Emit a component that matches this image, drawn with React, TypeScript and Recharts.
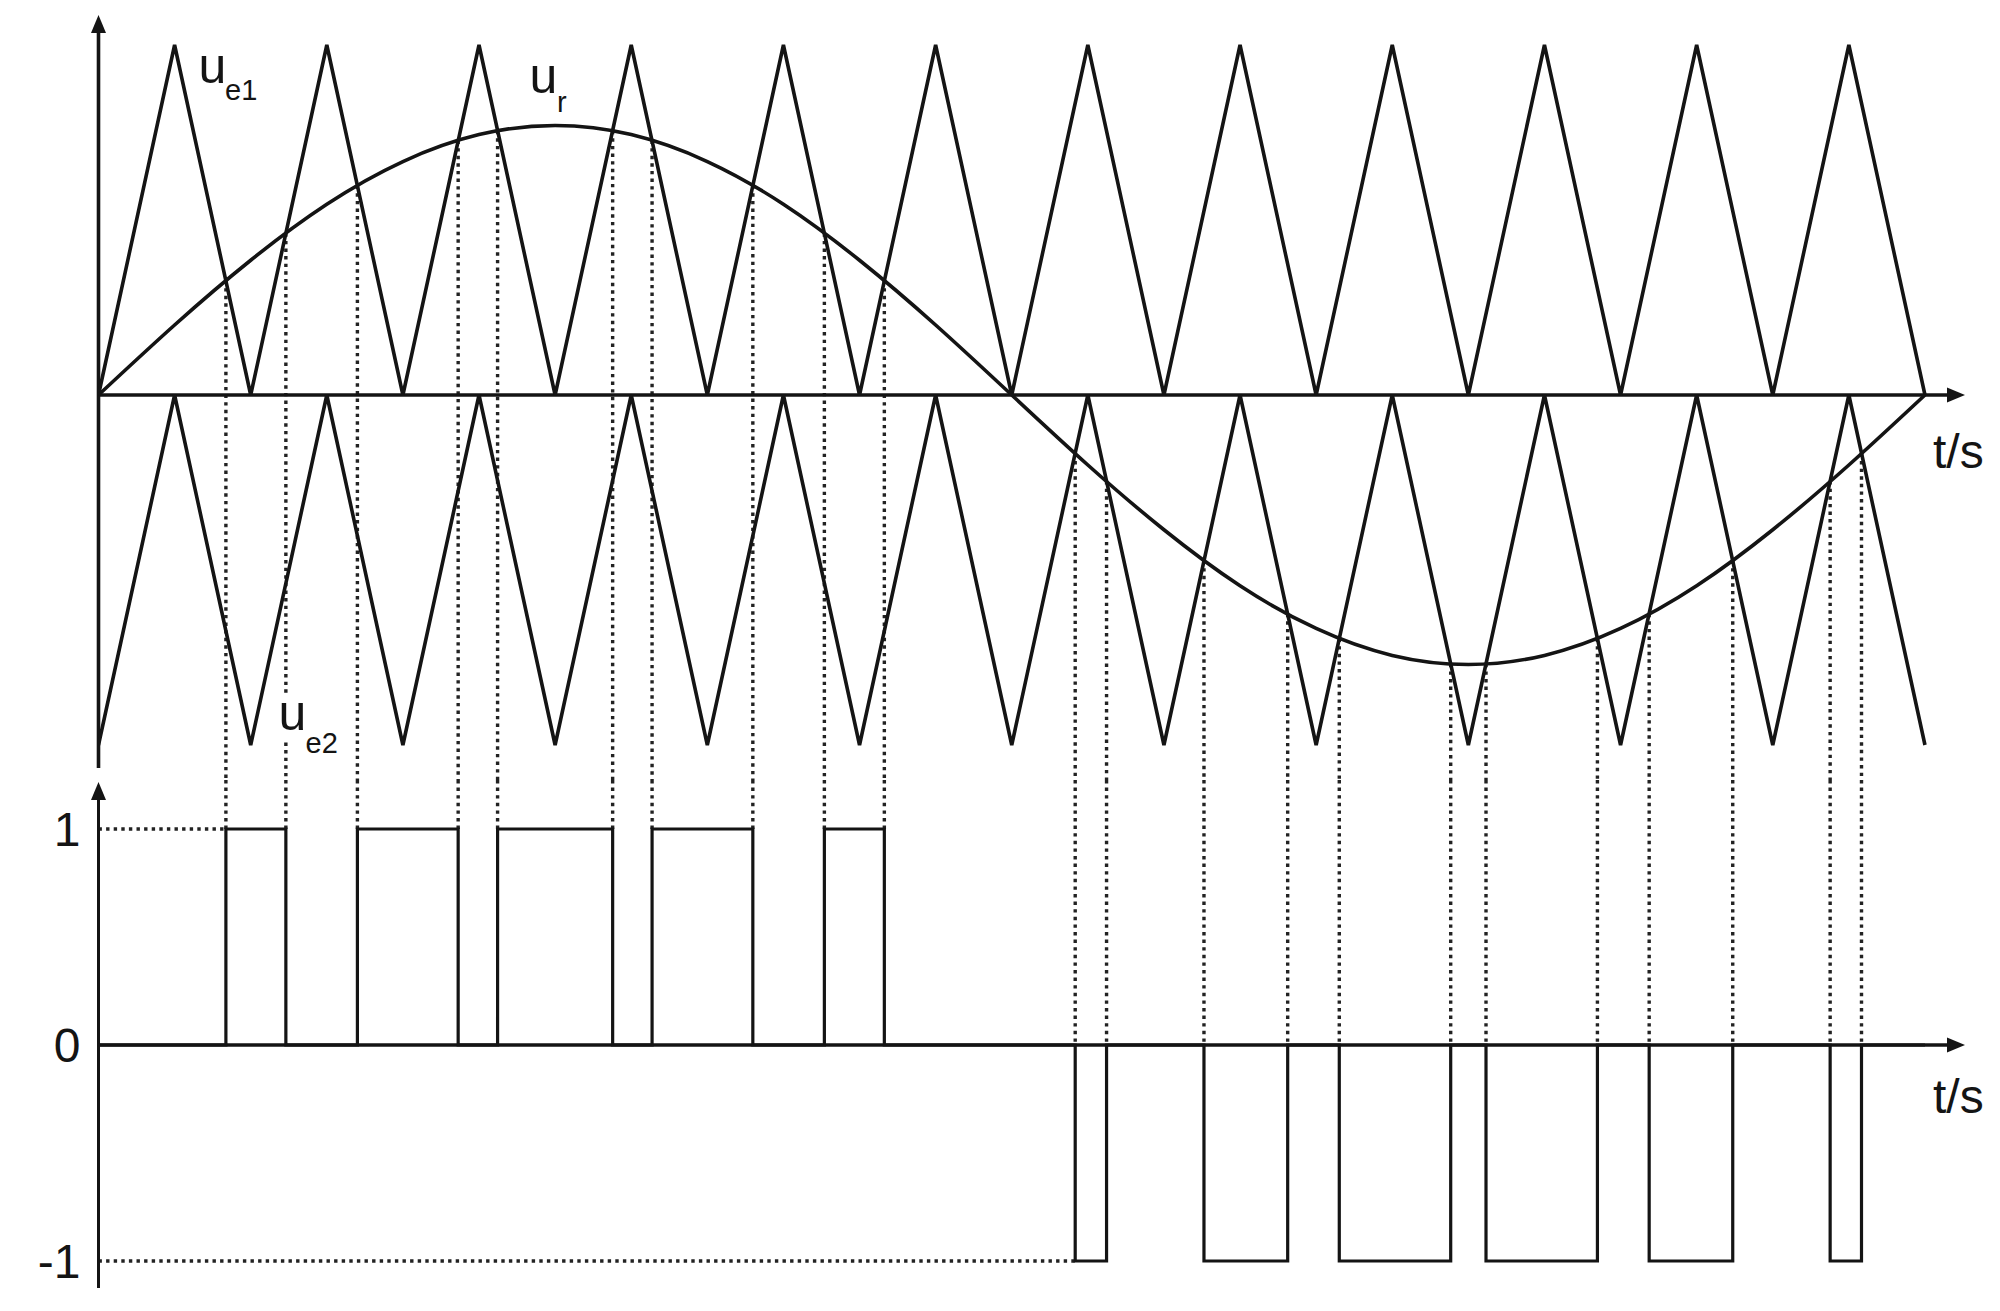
import React from 'react';
import { ComposedChart, Line, XAxis, YAxis, ReferenceLine, ReferenceDot } from 'recharts';

// ---- data (t in carrier periods) ----
const carrierT = [0, 0.5, 1, 1.5, 2, 2.5, 3, 3.5, 4, 4.5, 5, 5.5, 6, 6.5, 7, 7.5, 8, 8.5, 9, 9.5, 10, 10.5, 11, 11.5, 12];
const ue1Values = [0, 1, 0, 1, 0, 1, 0, 1, 0, 1, 0, 1, 0, 1, 0, 1, 0, 1, 0, 1, 0, 1, 0, 1, 0];
const ue2Values = [-1, 0, -1, 0, -1, 0, -1, 0, -1, 0, -1, 0, -1, 0, -1, 0, -1, 0, -1, 0, -1, 0, -1, 0, -1];
const urValues = [0, 0.2, 0.385, 0.545, 0.667, 0.744, 0.77, 0.744, 0.667, 0.545, 0.385, 0.2, 0, -0.2, -0.385, -0.545, -0.667, -0.744, -0.77, -0.744, -0.667, -0.545, -0.385, -0.2, 0];

// crossings of u_r with u_e1 (positive pulses) : time and level
const posCrossT = [0.837, 1.231, 1.701, 2.363, 2.622, 3.378, 3.637, 4.299, 4.769, 5.163];
const posCrossV = [0.327, 0.462, 0.598, 0.727, 0.755, 0.755, 0.727, 0.598, 0.462, 0.327];
// crossings of u_r with u_e2 (negative pulses)
const negCrossT = [6.417, 6.623, 7.263, 7.813, 8.152, 8.884, 9.116, 9.848, 10.188, 10.737, 11.377, 11.583];
const negCrossV = [-0.167, -0.246, -0.473, -0.625, -0.696, -0.768, -0.768, -0.696, -0.625, -0.473, -0.246, -0.167];

const pwmTicks = [1, 0, -1];
const pwmLevels = [1, -1];

const T_END = 12.263; // extent of time axis (arrow tip)
const T_STOP = 12;

const TOP_DOMAIN: [number, number] = [-1.1, 1.1];
const BOT_DOMAIN: [number, number] = [-1.1343, 1.2269];

const FONT = '"Liberation Sans", Arial, sans-serif';
const INK = '#141414';
const DOT = '#222222';
const LW = 3.6;
const DW = 3.4;
const DASH = '3.4 4.2';

const topData = carrierT.map((t, i) => ({ t, ue1: ue1Values[i], ue2: ue2Values[i], ur: urValues[i] }));

const pwmData: { t: number; v: number }[] = [{ t: 0, v: 0 }];
for (let i = 0; i < posCrossT.length; i += 2) {
  pwmData.push({ t: posCrossT[i], v: 0 }, { t: posCrossT[i], v: pwmLevels[0] }, { t: posCrossT[i + 1], v: pwmLevels[0] }, { t: posCrossT[i + 1], v: 0 });
}
for (let i = 0; i < negCrossT.length; i += 2) {
  pwmData.push({ t: negCrossT[i], v: 0 }, { t: negCrossT[i], v: pwmLevels[1] }, { t: negCrossT[i + 1], v: pwmLevels[1] }, { t: negCrossT[i + 1], v: 0 });
}
pwmData.push({ t: T_STOP, v: 0 });

const arrowRight = (p: any) => (
  <polygon points={`${p.cx},${p.cy} ${p.cx - 18},${p.cy - 7.5} ${p.cx - 18},${p.cy + 7.5}`} fill={INK} />
);
const arrowUp = (p: any) => (
  <polygon points={`${p.cx},${p.cy} ${p.cx - 7.5},${p.cy + 18} ${p.cx + 7.5},${p.cy + 18}`} fill={INK} />
);

export default function App() {
  return (
    <div style={{ position: 'absolute', left: 0, top: 0, width: 2000, height: 1311, background: '#fff', overflow: 'hidden' }}>
      <div style={{ position: 'absolute', left: 0, top: 0 }}>
        <ComposedChart width={2000} height={790} data={topData} margin={{ top: 10, right: 35, bottom: 10, left: 98.5 }}>
          <XAxis type="number" dataKey="t" domain={[0, T_END]} hide allowDataOverflow />
          <YAxis type="number" domain={TOP_DOMAIN} hide allowDataOverflow />
          {posCrossT.map((t, i) => (
            <ReferenceLine key={'pd' + i} segment={[{ x: t, y: posCrossV[i] }, { x: t, y: TOP_DOMAIN[0] }]} stroke={DOT} strokeWidth={DW} strokeDasharray={DASH} ifOverflow="visible" />
          ))}
          {negCrossT.map((t, i) => (
            <ReferenceLine key={'nd' + i} segment={[{ x: t, y: negCrossV[i] }, { x: t, y: TOP_DOMAIN[0] }]} stroke={DOT} strokeWidth={DW} strokeDasharray={DASH} ifOverflow="visible" />
          ))}
          <ReferenceLine segment={[{ x: 0, y: 0 }, { x: T_END - 0.05, y: 0 }]} stroke={INK} strokeWidth={LW} ifOverflow="visible" />
          <ReferenceLine segment={[{ x: 0, y: -1.066 }, { x: 0, y: 1.05 }]} stroke={INK} strokeWidth={LW} ifOverflow="visible" />
          <ReferenceDot x={T_END} y={0} r={0} shape={arrowRight} ifOverflow="visible" />
          <ReferenceDot x={0} y={1.086} r={0} shape={arrowUp} ifOverflow="visible" />
          <Line dataKey="ue1" type="linear" dot={false} activeDot={false} stroke={INK} strokeWidth={LW} isAnimationActive={false} />
          <Line dataKey="ue2" type="linear" dot={false} activeDot={false} stroke={INK} strokeWidth={LW} isAnimationActive={false} />
          <Line dataKey="ur" type="natural" dot={false} activeDot={false} stroke={INK} strokeWidth={LW} isAnimationActive={false} />
        </ComposedChart>
      </div>
      <div style={{ position: 'absolute', left: 0, top: 780 }}>
        <ComposedChart width={2000} height={531} data={pwmData} margin={{ top: 0, right: 35, bottom: 21, left: 0 }}>
          <XAxis type="number" dataKey="t" domain={[0, T_END]} hide allowDataOverflow />
          <YAxis
            type="number"
            domain={BOT_DOMAIN}
            ticks={pwmTicks}
            interval={0}
            width={98.5}
            axisLine={false}
            tickLine={false}
            tickSize={6}
            tickMargin={12}
            tick={{ fontSize: 48, fontFamily: FONT, fill: INK }}
            allowDataOverflow
          />
          {posCrossT.map((t, i) => (
            <ReferenceLine key={'pb' + i} segment={[{ x: t, y: BOT_DOMAIN[1] }, { x: t, y: pwmLevels[0] }]} stroke={DOT} strokeWidth={DW} strokeDasharray={DASH} ifOverflow="visible" />
          ))}
          {negCrossT.map((t, i) => (
            <ReferenceLine key={'nb' + i} segment={[{ x: t, y: BOT_DOMAIN[1] }, { x: t, y: 0 }]} stroke={DOT} strokeWidth={DW} strokeDasharray={DASH} ifOverflow="visible" />
          ))}
          <ReferenceLine segment={[{ x: 0, y: pwmLevels[0] }, { x: posCrossT[0], y: pwmLevels[0] }]} stroke={DOT} strokeWidth={DW} strokeDasharray={DASH} ifOverflow="visible" />
          <ReferenceLine segment={[{ x: 0, y: pwmLevels[1] }, { x: negCrossT[0], y: pwmLevels[1] }]} stroke={DOT} strokeWidth={DW} strokeDasharray={DASH} ifOverflow="visible" />
          <ReferenceLine segment={[{ x: 0, y: 0 }, { x: T_END - 0.05, y: 0 }]} stroke={INK} strokeWidth={LW} ifOverflow="visible" />
          <ReferenceLine segment={[{ x: 0, y: -1.125 }, { x: 0, y: 1.18 }]} stroke={INK} strokeWidth={3} ifOverflow="visible" />
          <ReferenceDot x={T_END} y={0} r={0} shape={arrowRight} ifOverflow="visible" />
          <ReferenceDot x={0} y={1.218} r={0} shape={arrowUp} ifOverflow="visible" />
          <Line dataKey="v" type="linear" dot={false} activeDot={false} stroke={INK} strokeWidth={3.2} isAnimationActive={false} />
        </ComposedChart>
      </div>
      <svg width={2000} height={1311} style={{ position: 'absolute', left: 0, top: 0, pointerEvents: 'none' }}>
        <g fontFamily={FONT} fill={INK}>
          <text x={198.5} y={83} fontSize={50}>u</text>
          <text x={225} y={100} fontSize={29}>e1</text>
          <text x={529.5} y={93} fontSize={50}>u</text>
          <text x={557} y={112} fontSize={29}>r</text>
          <rect x={276} y={697} width={66} height={45} fill="#fff" />
          <text x={278.5} y={730} fontSize={50}>u</text>
          <text x={305.5} y={753} fontSize={29}>e2</text>
          <text x={1933} y={468} fontSize={48}>t/s</text>
          <text x={1933} y={1113} fontSize={48}>t/s</text>
        </g>
      </svg>
    </div>
  );
}
